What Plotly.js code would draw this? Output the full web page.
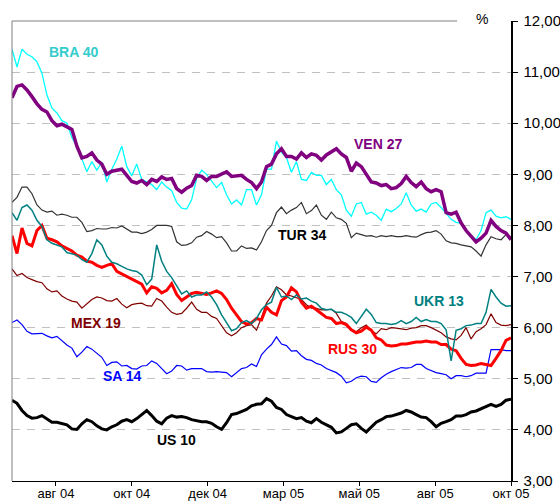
<!DOCTYPE html>
<html>
<head>
<meta charset="utf-8">
<script src="https://cdn.plot.ly/plotly-3.0.1.min.js"></script>
<style>html,body{margin:0;padding:0;background:#fff;}#chart{width:560px;height:502px;}</style>
</head>
<body>
<div id="chart"></div>
<script>
// Tick labels (months) and their positions on the observation index axis
const tickLabels = ["авг 04", "окт 04", "дек 04", "мар 05", "май 05", "авг 05", "окт 05"];
const tickPos = [8.8, 24, 39.2, 54.4, 69.6, 84.8, 100];

// Yields, % (one value per observation)
const BRA40 = [11.45,11.1,11.45,11.35,11.3,11.2,10.98,10.55,10.3,10.2,10.05,10.0,9.72,9.55,9.3,9.05,9.25,9.08,9.24,8.85,
9.1,9.3,9.55,9.15,8.97,9.2,8.9,8.85,8.8,8.7,8.85,8.75,8.68,8.45,8.34,8.32,8.5,8.92,9.08,9.0,
8.88,8.74,8.84,8.6,8.42,8.5,8.4,8.7,8.7,8.4,8.6,9.1,9.1,9.65,9.43,9.33,9.04,9.25,8.9,8.88,
9.04,8.98,8.98,8.8,8.9,8.7,8.6,8.3,8.18,8.42,8.45,8.22,8.26,8.2,8.1,8.32,8.27,8.33,8.42,8.64,
8.4,8.28,8.32,8.26,8.42,8.45,8.35,8.24,8.12,8.06,8.04,7.92,7.8,7.72,7.9,8.25,8.3,8.18,8.15,8.17,8.12];
const VEN27 = [10.5,10.72,10.75,10.65,10.52,10.38,10.27,10.22,10.05,9.95,9.98,9.92,9.88,9.55,9.32,9.35,9.42,9.28,9.2,9.0,
9.06,9.08,9.1,8.98,8.86,8.83,8.88,8.8,8.9,8.86,8.95,8.9,8.92,8.72,8.65,8.73,8.78,8.98,8.96,8.88,
8.96,8.96,9.0,9.05,8.96,8.97,8.98,8.9,8.84,8.72,8.85,9.15,9.2,9.4,9.5,9.35,9.35,9.3,9.42,9.33,
9.4,9.37,9.28,9.38,9.45,9.5,9.4,9.33,9.06,9.22,9.15,9.0,8.85,8.83,8.78,8.8,8.72,8.74,8.82,8.96,
8.84,8.76,8.85,8.72,8.66,8.7,8.66,8.25,8.22,8.26,8.05,7.9,7.8,7.68,7.75,7.85,8.1,7.98,7.9,7.85,7.72];
const TUR34 = [8.45,8.55,8.75,8.75,8.62,8.4,8.3,8.26,8.28,8.2,8.22,8.2,8.16,8.16,8.06,7.88,7.9,7.94,7.93,7.93,
7.96,7.95,7.99,7.93,7.87,7.87,7.84,7.87,7.92,8.0,8.0,8.0,7.98,7.68,7.61,7.62,7.66,7.77,7.8,7.88,
7.83,7.76,7.78,7.66,7.5,7.5,7.6,7.55,7.56,7.52,7.68,7.9,8.0,8.25,8.36,8.23,8.3,8.35,8.45,8.23,
8.29,8.4,8.2,8.12,8.26,8.15,8.12,8.04,7.76,7.85,7.82,7.79,7.8,7.77,7.8,7.78,7.8,7.78,7.78,7.8,
7.78,7.77,7.82,7.86,7.87,7.9,7.83,7.7,7.66,7.65,7.62,7.6,7.58,7.5,7.4,7.62,7.78,7.74,7.72,7.82,7.77];
const UKR13 = [8.25,8.1,8.35,8.4,8.3,8.1,7.98,7.72,7.65,7.62,7.58,7.47,7.44,7.42,7.33,7.28,7.45,7.72,7.62,7.4,
7.28,7.25,7.2,7.15,7.12,7.1,7.03,6.84,6.95,7.62,7.3,7.1,6.98,6.82,6.66,6.72,6.6,6.64,6.64,6.7,
6.6,6.45,6.25,6.1,5.94,5.98,6.1,6.14,6.08,6.18,6.35,6.45,6.5,6.79,6.6,6.62,6.55,6.64,6.56,6.58,
6.52,6.48,6.38,6.35,6.36,6.3,6.3,6.26,6.2,6.08,6.22,6.36,6.26,6.1,6.08,6.08,6.06,6.08,6.14,6.08,
6.12,6.2,6.12,6.16,6.12,6.12,6.08,5.96,5.35,5.95,5.98,6.04,6.05,6.08,6.08,6.3,6.75,6.6,6.48,6.42,6.43];
const RUS30 = [7.8,7.45,7.95,7.65,7.6,7.9,8.0,7.75,7.72,7.68,7.6,7.55,7.5,7.42,7.38,7.3,7.28,7.22,7.18,7.22,
7.25,7.1,7.05,7.0,6.95,6.9,6.85,6.68,6.8,6.77,6.68,6.73,6.86,6.65,6.53,6.6,6.67,6.69,6.67,6.65,
6.68,6.72,6.67,6.55,6.38,6.26,6.12,6.07,6.1,6.18,6.15,6.4,6.3,6.25,6.53,6.6,6.78,6.7,6.5,6.38,
6.42,6.35,6.27,6.2,6.18,6.08,6.1,6.06,5.96,5.9,5.93,6.01,5.95,5.8,5.76,5.66,5.64,5.65,5.68,5.68,
5.7,5.72,5.72,5.74,5.72,5.72,5.67,5.67,5.58,5.55,5.4,5.28,5.26,5.27,5.3,5.28,5.26,5.4,5.55,5.75,5.8];
const MEX19 = [7.15,7.02,7.06,6.98,6.94,6.9,6.88,6.76,6.7,6.72,6.62,6.56,6.52,6.5,6.38,6.46,6.55,6.6,6.58,6.53,
6.52,6.57,6.46,6.39,6.45,6.47,6.48,6.43,6.42,6.57,6.52,6.4,6.3,6.26,6.28,6.38,6.5,6.36,6.3,6.3,
6.22,6.18,6.05,5.9,5.84,5.9,6.0,6.04,6.06,5.95,6.2,6.48,6.62,6.8,6.74,6.64,6.62,6.58,6.55,6.45,
6.38,6.38,6.35,6.35,6.36,6.28,6.12,6.08,5.95,5.92,6.0,6.05,5.94,5.88,5.98,5.96,6.0,5.99,5.98,5.96,
5.99,6.0,6.04,6.04,6.0,5.95,5.9,5.82,5.78,5.76,5.85,6.0,5.78,5.92,5.98,6.06,6.27,6.1,6.05,6.04,6.06];
const SA14 = [6.1,6.15,6.06,5.93,5.88,5.88,5.89,5.84,5.8,5.83,5.75,5.66,5.6,5.43,5.52,5.63,5.58,5.5,5.42,5.26,
5.32,5.33,5.25,5.26,5.2,5.19,5.25,5.26,5.35,5.3,5.2,5.1,5.15,5.26,5.25,5.17,5.2,5.2,5.2,5.14,
5.13,5.14,5.13,5.12,5.04,5.12,5.2,5.22,5.29,5.24,5.47,5.58,5.67,5.82,5.68,5.65,5.54,5.55,5.45,5.38,
5.36,5.3,5.27,5.2,5.16,5.12,5.05,4.92,4.95,5.02,5.05,5.04,4.95,4.93,5.02,5.09,5.14,5.18,5.22,5.21,
5.22,5.28,5.28,5.2,5.16,5.12,5.1,5.08,5.0,5.06,5.06,5.04,5.06,5.11,5.11,5.11,5.57,5.57,5.57,5.55,5.55];
const US10 = [4.58,4.52,4.38,4.28,4.23,4.24,4.28,4.22,4.15,4.15,4.12,4.1,4.02,4.01,4.12,4.2,4.16,4.08,4.02,4.0,
4.06,4.1,4.17,4.2,4.16,4.22,4.3,4.38,4.28,4.17,4.12,4.23,4.28,4.25,4.26,4.24,4.2,4.18,4.16,4.16,
4.13,4.06,4.01,4.14,4.3,4.32,4.36,4.4,4.47,4.5,4.51,4.61,4.56,4.44,4.4,4.3,4.26,4.22,4.24,4.17,
4.14,4.22,4.15,4.1,4.05,3.94,3.96,4.03,4.1,4.12,4.03,3.96,4.06,4.15,4.2,4.26,4.27,4.3,4.33,4.38,
4.35,4.3,4.25,4.24,4.16,4.06,4.13,4.16,4.2,4.27,4.27,4.3,4.35,4.37,4.41,4.46,4.5,4.46,4.5,4.58,4.6];

const seriesNames = ["SA 14", "US 10", "MEX 19", "RUS 30", "UKR 13", "TUR 34", "BRA 40", "VEN 27"];
const seriesData = [SA14, US10, MEX19, RUS30, UKR13, TUR34, BRA40, VEN27];
const seriesColors = ["#0000FF", "#000000", "#800000", "#FF0000", "#008080", "#333333", "#00FFFF", "#800080"];
const seriesWidths = [1.2, 3, 1.2, 3, 1.5, 1.2, 1.3, 3.5];

// label placement (index, value) and colours
const labelText = ["BRA 40", "VEN 27", "TUR 34", "UKR 13", "MEX 19", "RUS 30", "SA 14", "US 10"];
const labelX = [12.4, 73.4, 58.1, 85.6, 16.9, 68.2, 22.1, 33.0];
const labelY = [11.39, 9.59, 7.81, 6.53, 6.09, 5.59, 5.05, 3.81];
const labelColor = ["#33CCCC", "#800080", "#000000", "#008080", "#800000", "#FF0000", "#0000FF", "#000000"];

const obsIndex = SA14.map((_, i) => i);

const traces = seriesData.map((vals, k) => ({
  x: obsIndex, y: vals, type: "scatter", mode: "lines", name: seriesNames[k],
  line: {color: seriesColors[k], width: seriesWidths[k]}, hoverinfo: "skip"
}));

const annotations = labelText.map((t, k) => ({
  x: labelX[k], y: labelY[k], xref: "x", yref: "y", text: "<b>" + t + "</b>",
  showarrow: false, font: {family: "Liberation Sans, Arial, sans-serif", size: 14, color: labelColor[k]},
  xanchor: "center", yanchor: "middle"
}));
annotations.push({x: 0.941, y: 1.005, xref: "paper", yref: "paper", text: "%", showarrow: false,
  font: {family: "Liberation Sans, Arial, sans-serif", size: 14, color: "#000"}, xanchor: "center", yanchor: "middle"});

const layout = {
  width: 560, height: 502,
  margin: {l: 12, r: 49, t: 21, b: 21, pad: 0},
  paper_bgcolor: "#fff", plot_bgcolor: "#fff",
  showlegend: false, hovermode: false,
  separators: ", ",
  font: {family: "Liberation Sans, Arial, sans-serif", size: 15, color: "#000"},
  xaxis: {
    range: [0, 100], tickmode: "array", tickvals: tickPos, ticktext: tickLabels,
    showgrid: false, zeroline: false, showline: true, linecolor: "#000", linewidth: 1,
    ticks: "outside", ticklen: 4, tickcolor: "#000", tickwidth: 1,
    tickfont: {size: 13, color: "#000"}, ticklabelstandoff: -4
  },
  yaxis: {
    range: [3, 12], side: "right", dtick: 1, tick0: 3, tickformat: ".2f",
    showgrid: true, gridcolor: "#C0C0C0", gridwidth: 1, griddash: "8px,7px",
    zeroline: false, showline: true, linecolor: "#000", linewidth: 1.5,
    ticks: "outside", ticklen: 5, tickcolor: "#000", tickwidth: 1,
    tickfont: {size: 15, color: "#000"}, ticklabelstandoff: 3
  },
  shapes: [
    {type: "line", xref: "paper", yref: "paper", x0: 0, x1: 0, y0: 0, y1: 1, line: {color: "#808080", width: 1}},
    {type: "line", xref: "paper", yref: "paper", x0: 0, x1: 0.892, y0: 1, y1: 1, line: {color: "#808080", width: 1}}
  ],
  annotations: annotations
};

Plotly.newPlot("chart", traces, layout, {displayModeBar: false, staticPlot: true});
</script>
</body>
</html>
